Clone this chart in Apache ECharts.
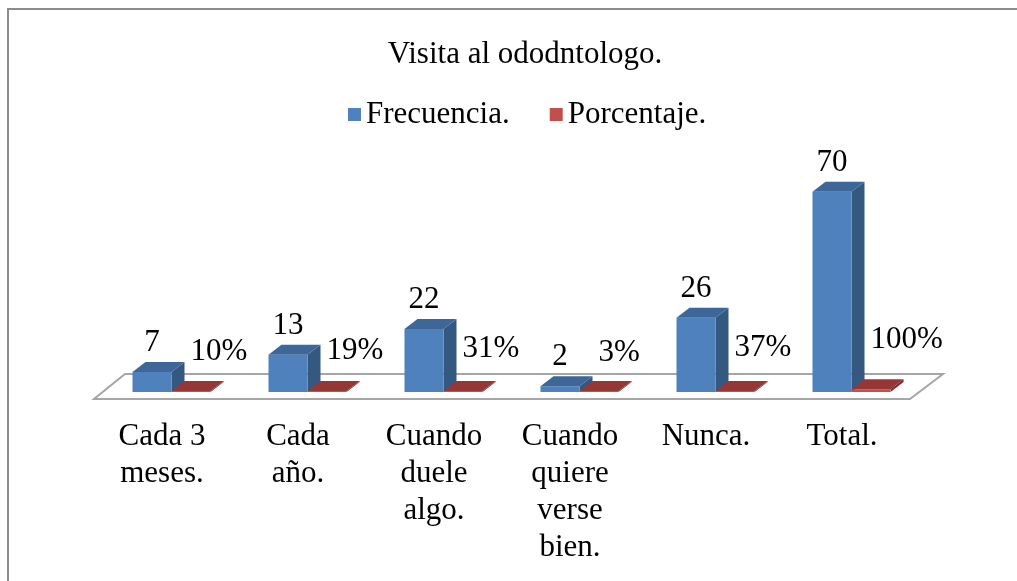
<!DOCTYPE html>
<html>
<head>
<meta charset="utf-8">
<style>
  html, body { margin: 0; padding: 0; background: #fff; }
  #chart { width: 1017px; height: 581px; }
</style>
<script src="https://cdn.jsdelivr.net/npm/echarts@6/dist/echarts.min.js"></script>
</head>
<body>
<div id="chart"></div>
<script>
var categories = ['Cada 3\nmeses.', 'Cada\naño.', 'Cuando\nduele\nalgo.', 'Cuando\nquiere\nverse\nbien.', 'Nunca.', 'Total.'];
var frecuencia = [7, 13, 22, 2, 26, 70];
var porcentaje = [0.10, 0.19, 0.31, 0.03, 0.37, 1.00];

var FONT = "'Liberation Serif', 'Times New Roman', serif";
var FS = 31;
var DX = 13, DY = 10; // depth of the 3d boxes

// draw one pseudo 3d box; shift is where the front face starts, in parts of the band
function box(params, api, shift, colors, labelText, labelPos) {
    var band = api.size([1, 0])[0];
    var w = band * 0.287;
    var top = api.coord([api.value(0), api.value(1)]);
    var base = api.coord([api.value(0), 0]);
    var x0 = top[0] + band * shift;
    var x1 = x0 + w;
    var yt = Math.min(top[1], base[1] - 1);
    var yb = base[1];
    var children = [
        { type: 'polygon', shape: { points: [[x1, yb], [x1 + DX, yb - DY], [x1 + DX, yt - DY], [x1, yt]] },
          style: { fill: colors.side } },
        { type: 'rect', shape: { x: x0, y: yt, width: w, height: yb - yt },
          style: { fill: colors.front } },
        { type: 'polygon', shape: { points: [[x0, yt], [x1, yt], [x1 + DX, yt - DY], [x0 + DX, yt - DY]] },
          style: { fill: colors.top } }
    ];
    var lp = labelPos(x0, x1, yt, yb);
    children.push({
        type: 'text',
        style: { text: labelText, x: lp[0], y: lp[1], align: lp[2], verticalAlign: 'middle',
                 font: FS + 'px ' + FONT, fill: '#000' }
    });
    return { type: 'group', children: children };
}

var chart = echarts.init(document.getElementById('chart'));

chart.setOption({
    animation: false,
    graphic: [{
        type: 'rect', silent: true, z: -10,
        shape: { x: 8, y: 9, width: 1100, height: 700 },
        style: { fill: 'none', stroke: '#8c8c8c', lineWidth: 2 }
    }],
    title: {
        text: 'Visita al ododntologo.',
        left: 520,
        top: 34,
        textAlign: 'center',
        textStyle: { fontFamily: FONT, fontSize: FS, fontWeight: 'normal', color: '#000' }
    },
    legend: {
        data: ['Frecuencia.', 'Porcentaje.'],
        left: 343,
        top: 94,
        icon: 'rect',
        itemWidth: 13,
        itemHeight: 13,
        itemGap: 40,
        textStyle: { fontFamily: FONT, fontSize: FS, color: '#000' }
    },
    grid: { left: 94, right: 107, top: 106, bottom: 189 },
    xAxis: {
        type: 'category',
        data: categories,
        axisLine: { show: false },
        axisTick: { show: false },
        axisLabel: {
            interval: 0,
            margin: 26,
            fontFamily: FONT,
            fontSize: FS,
            lineHeight: 37,
            color: '#000'
        }
    },
    yAxis: { type: 'value', min: 0, max: 100, show: false },
    series: [{
        name: 'piso',
        type: 'custom',
        silent: true,
        z: 1,
        data: [[0, 0]],
        renderItem: function (params, api) {
            var cs = params.coordSys;
            var yb = cs.y + cs.height;
            var l = cs.x, r = cs.x + cs.width;
            return {
                type: 'polygon',
                shape: { points: [[l, yb + 7], [r, yb + 7], [r + 33, yb - 18], [l + 31, yb - 18]] },
                style: { fill: '#fff', stroke: '#a6a6a6', lineWidth: 2 }
            };
        }
    }, {
        name: 'Frecuencia.',
        type: 'custom',
        z: 2,
        itemStyle: { color: '#4f81bd' },
        encode: { x: 0, y: 1 },
        data: frecuencia.map(function (v, i) { return [i, v]; }),
        renderItem: function (params, api) {
            return box(params, api, -0.217,
                { front: '#4f81bd', side: '#34587f', top: '#3d6699' },
                String(api.value(1)),
                function (x0, x1, yt) { return [(x0 + x1) / 2, yt - 29, 'center']; });
        }
    }, {
        name: 'Porcentaje.',
        type: 'custom',
        z: 3,
        itemStyle: { color: '#c0504d' },
        encode: { x: 0, y: 1 },
        data: porcentaje.map(function (v, i) { return [i, v]; }),
        renderItem: function (params, api) {
            var v = api.value(1);
            return box(params, api, 0.07,
                { front: '#c0504d', side: '#7a2c2a', top: '#953735' },
                Math.round(v * 100) + '%',
                function (x0, x1, yt, yb) { return [x0 + 19, yb - 39 - 13 * v, 'left']; });
        }
    }]
});
</script>
</body>
</html>
